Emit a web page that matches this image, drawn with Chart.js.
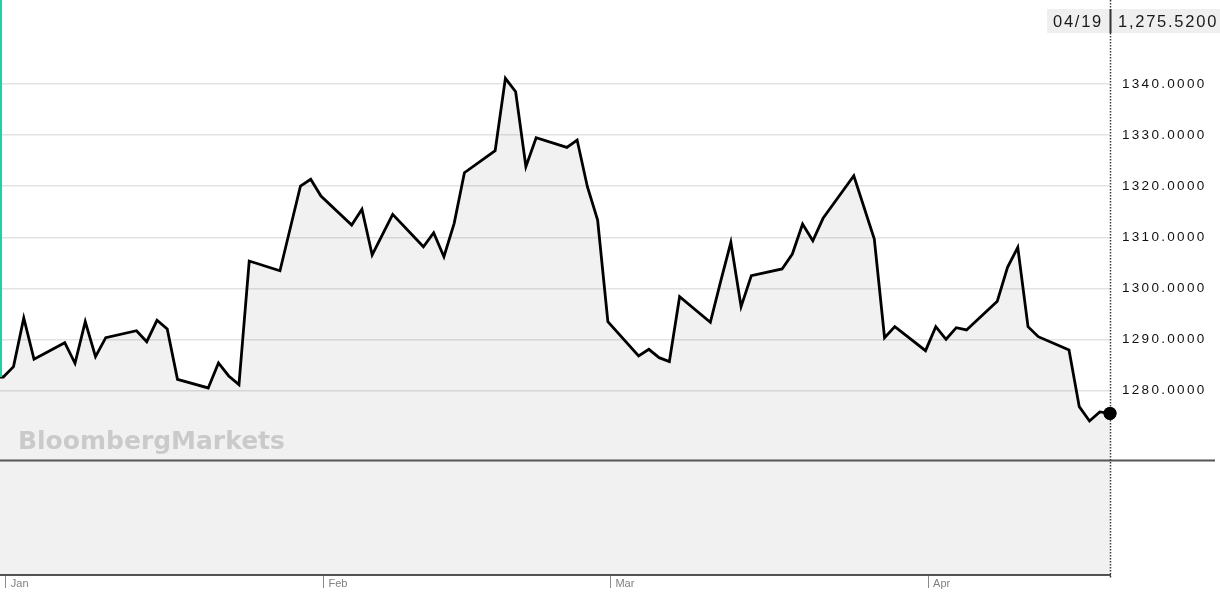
<!DOCTYPE html>
<html>
<head>
<meta charset="utf-8">
<script src="https://cdn.jsdelivr.net/npm/chart.js@4.4.1/dist/chart.umd.min.js"></script>
<style>
  html, body { margin: 0; padding: 0; background: #fff; overflow: hidden; }
  #wrap { position: relative; width: 1220px; height: 603px; }
</style>
</head>
<body>
<div id="wrap"><canvas id="c"></canvas></div>
<script>
// ---------------- DATA ----------------
const tradeDates = [
  '2018-12-31','2019-01-01','2019-01-02','2019-01-03','2019-01-04',
  '2019-01-07','2019-01-08','2019-01-09','2019-01-10','2019-01-11',
  '2019-01-14','2019-01-15','2019-01-16','2019-01-17','2019-01-18',
  '2019-01-21','2019-01-22','2019-01-23','2019-01-24','2019-01-25',
  '2019-01-28','2019-01-30','2019-01-31','2019-02-01',
  '2019-02-04','2019-02-05','2019-02-06','2019-02-08',
  '2019-02-11','2019-02-12','2019-02-13','2019-02-14','2019-02-15',
  '2019-02-18','2019-02-19','2019-02-20','2019-02-21','2019-02-22',
  '2019-02-25','2019-02-26','2019-02-27','2019-02-28','2019-03-01',
  '2019-03-04','2019-03-05','2019-03-06','2019-03-07','2019-03-08',
  '2019-03-11','2019-03-12','2019-03-13','2019-03-14','2019-03-15',
  '2019-03-18','2019-03-19','2019-03-20','2019-03-21','2019-03-22',
  '2019-03-25','2019-03-27','2019-03-28','2019-03-29',
  '2019-04-01','2019-04-02','2019-04-03','2019-04-04','2019-04-05',
  '2019-04-08','2019-04-09','2019-04-10','2019-04-11','2019-04-12',
  '2019-04-15','2019-04-16','2019-04-17','2019-04-18','2019-04-19'
];
const prices = [
  1282.66, 1282.66, 1284.68, 1294.21, 1286.13,
  1289.37, 1285.34, 1293.48, 1286.63, 1290.35,
  1291.72, 1289.57, 1293.76, 1292.05, 1282.21,
  1280.51, 1285.40, 1282.86, 1281.16, 1305.36,
  1303.46, 1320.04, 1321.35, 1318.08,
  1312.41, 1315.48, 1306.54, 1314.50,
  1308.16, 1310.90, 1306.20, 1312.74, 1322.64,
  1326.95, 1341.12, 1338.49, 1323.82, 1329.49,
  1327.61, 1329.04, 1319.90, 1313.39, 1293.48,
  1286.77, 1288.08, 1286.44, 1285.66, 1298.38,
  1293.37, 1301.31, 1309.02, 1296.42, 1302.49,
  1303.80, 1306.73, 1312.60, 1309.33, 1313.72,
  1322.05, 1309.67, 1290.35, 1292.51,
  1287.81, 1292.51, 1290.04, 1292.31, 1291.86,
  1297.48, 1304.13, 1308.04, 1292.51, 1290.55,
  1287.95, 1276.85, 1274.05, 1275.81, 1275.52
];
const monthTickDates = ['2019-01-01', '2019-02-01', '2019-03-01', '2019-04-01'];
const monthLabels = ['Jan', 'Feb', 'Mar', 'Apr'];
const yTickValues = [1280, 1290, 1300, 1310, 1320, 1330, 1340];
const watermarkText = 'BloombergMarkets';

// ---------------- HELPERS ----------------
const ORIGIN = Date.UTC(2019, 0, 1);
function dayIndex(s) {
  const [yy, mm, dd] = s.split('-').map(Number);
  return (Date.UTC(yy, mm - 1, dd) - ORIGIN) / 86400000;
}
const TICK_SHIFT = 0.25;
const points = tradeDates.map((d, i) => ({ x: dayIndex(d), y: prices[i] }));
const lastIdx = prices.length - 1;
const lastDate = tradeDates[lastIdx].split('-');
const headerDate = lastDate[1] + '/' + lastDate[2];
const headerValue = prices[lastIdx].toLocaleString('en-US', { minimumFractionDigits: 4, maximumFractionDigits: 4 });

// Linear scale that draws its labels with letter spacing
class SpacedLinearScale extends Chart.LinearScale {
  drawLabels(area) {
    const ctx = this.ctx;
    ctx.save();
    ctx.letterSpacing = '2.3px';
    super.drawLabels(area);
    ctx.restore();
  }
}
SpacedLinearScale.id = 'spacedLinear';
SpacedLinearScale.defaults = Chart.LinearScale.defaults;
Chart.register(SpacedLinearScale);

const decor = {
  id: 'decor',
  afterDatasetsDraw(chart) {
    const ctx = chart.ctx;
    ctx.save();
    ctx.font = 'bold 25px "DejaVu Sans"';
    ctx.fillStyle = '#cacaca';
    ctx.textBaseline = 'alphabetic';
    ctx.textAlign = 'left';
    ctx.fillText(watermarkText, 18, 449);
    ctx.restore();
  },
  afterDraw(chart) {
    const { ctx, chartArea, scales } = chart;
    const y = scales.y;
    const rx = chartArea.right + 0.5;
    ctx.save();
    // pane separator
    ctx.strokeStyle = '#555';
    ctx.lineWidth = 2;
    ctx.beginPath();
    ctx.moveTo(0, 460.5);
    ctx.lineTo(1215, 460.5);
    ctx.stroke();
    // green left marker
    const gy = y.getPixelForValue(prices[0]);
    ctx.strokeStyle = '#1ed3a3';
    ctx.lineWidth = 2;
    ctx.beginPath();
    ctx.moveTo(1, 0);
    ctx.lineTo(1, gy);
    ctx.stroke();
    // dotted right edge
    ctx.strokeStyle = '#3a3a3a';
    ctx.lineWidth = 1.5;
    ctx.setLineDash([1.5, 1.5]);
    ctx.beginPath();
    ctx.moveTo(rx, 0);
    ctx.lineTo(rx, chartArea.bottom + 3);
    ctx.stroke();
    ctx.setLineDash([]);
    // re-draw final point on top of dotted line
    const meta = chart.getDatasetMeta(0);
    const lp = meta.data[lastIdx];
    ctx.fillStyle = '#000';
    ctx.beginPath();
    ctx.arc(lp.x, lp.y, 6.5, 0, Math.PI * 2);
    ctx.fill();
    // header box
    ctx.fillStyle = '#efefef';
    ctx.fillRect(1047, 9, 173, 24);
    ctx.strokeStyle = '#333';
    ctx.lineWidth = 2;
    ctx.beginPath();
    ctx.moveTo(rx, 9);
    ctx.lineTo(rx, 33);
    ctx.stroke();
    ctx.fillStyle = '#1a1a1a';
    ctx.font = '16.5px "Liberation Sans", Arial, sans-serif';
    ctx.letterSpacing = '1.75px';
    ctx.textBaseline = 'alphabetic';
    ctx.textAlign = 'left';
    ctx.fillText(headerDate, 1053, 27);
    ctx.fillText(headerValue, 1118, 27);
    ctx.restore();
  }
};

new Chart(document.getElementById('c'), {
  type: 'line',
  data: {
    datasets: [{
      data: points,
      borderColor: '#000',
      borderWidth: 2.8,
      backgroundColor: 'rgba(0,0,0,0.055)',
      fill: 'start',
      tension: 0,
      clip: false,
      borderJoinStyle: 'miter',
      pointRadius: ctx => ctx.dataIndex === lastIdx ? 6.5 : 0,
      pointHoverRadius: ctx => ctx.dataIndex === lastIdx ? 6.5 : 0,
      pointBackgroundColor: '#000',
      pointBorderWidth: 0
    }]
  },
  options: {
    responsive: true,
    maintainAspectRatio: false,
    animation: false,
    events: [],
    layout: { padding: 0, autoPadding: false },
    plugins: { legend: { display: false }, tooltip: { enabled: false }, title: { display: false } },
    scales: {
      x: {
        type: 'linear',
        position: 'bottom',
        min: -0.32,
        max: 108,
        afterBuildTicks: s => { s.ticks = monthTickDates.map(d => ({ value: dayIndex(d) + TICK_SHIFT })); },
        afterFit: s => { s.height = 28; s.paddingLeft = 0; s.paddingRight = 0; },
        grid: { drawOnChartArea: false, drawTicks: true, tickLength: 13, color: '#8a8a8a', lineWidth: 1 },
        border: { display: true, color: '#555', width: 2 },
        ticks: {
          autoSkip: false,
          maxRotation: 0,
          align: 'start',
          labelOffset: 5,
          padding: -11,
          color: '#808080',
          font: { family: '"Liberation Sans", Arial, sans-serif', size: 11 },
          callback: (v, i) => monthLabels[i]
        }
      },
      y: {
        type: 'spacedLinear',
        position: 'right',
        min: 1243.9,
        max: 1356.45,
        afterBuildTicks: s => { s.ticks = yTickValues.map(v => ({ value: v })); },
        afterFit: s => { s.width = 110; s.paddingTop = 0; s.paddingBottom = 0; },
        grid: { color: '#e3e3e3', lineWidth: 1.6, drawTicks: false },
        border: { display: false },
        ticks: {
          padding: 12,
          color: '#111',
          font: { family: '"Liberation Sans", Arial, sans-serif', size: 13.5 },
          callback: v => Number(v).toFixed(4)
        }
      }
    }
  },
  plugins: [decor]
});
</script>
</body>
</html>
